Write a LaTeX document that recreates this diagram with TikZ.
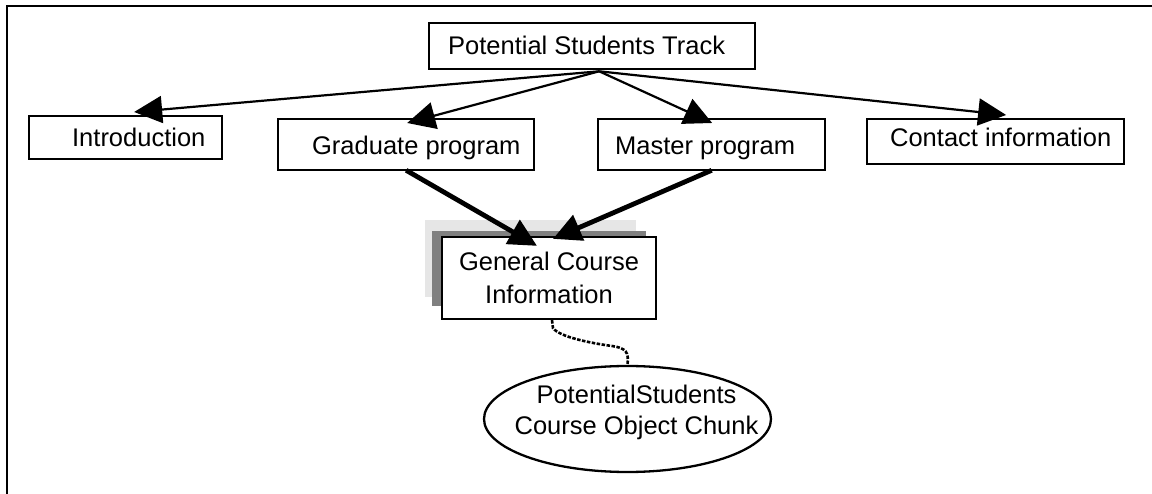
\documentclass[tikz,border=0pt]{standalone}
\usepackage{fontspec}
\setmainfont{Liberation Sans}
\usetikzlibrary{arrows.meta,shapes.geometric}
\definecolor{shadelight}{HTML}{E6E6E6}
\definecolor{shadedark}{HTML}{808080}

% box label: fixed width, text set in from the left edge
\newcommand\lbltext[3]{\makebox[#1][l]{\hspace*{#2}#3}}

\tikzset{
  box/.style={draw=black, line width=2.3pt, fill=white, rectangle, inner sep=0pt,
              anchor=north west, font=\fontsize{25.5}{31}\selectfont},
  flow/.style={line width=2.2pt, -{Triangle[length=28pt,width=27pt]}},
  heavy/.style={line width=4.8pt, -{Triangle[length=28pt,width=27pt]}},
  link/.style={line width=2.6pt, dash pattern=on 3.5pt off 1.5pt},
}

\begin{document}
\begin{tikzpicture}[x=1pt,y=-1pt]
\useasboundingbox (0,0) rectangle (1152,494);

% frame
\draw[line width=2.6pt, line join=miter] (7,494) -- (7,6) -- (1152,6);

% layered shading behind the course box
\fill[shadelight] (425,220) rectangle (636,297);
\fill[shadedark] (432,231) rectangle (646,306);

% boxes
\node[box, text height=31pt, text depth=15pt] (track) at (428,22)
  {\lbltext{326pt}{19pt}{Potential Students Track}};
\node[box, text height=30pt, text depth=13pt] (intro) at (28,115)
  {\lbltext{193pt}{43pt}{Introduction}};
\node[box, text height=35pt, text depth=16pt] (grad) at (277,118)
  {\lbltext{256pt}{34pt}{Graduate program}};
\node[box, text height=35pt, text depth=16pt] (master) at (597,118)
  {\lbltext{227pt}{17pt}{Master program}};
\node[box, text height=27pt, text depth=18pt] (contact) at (866,118)
  {\lbltext{257pt}{23pt}{Contact information}};
\node[box, anchor=center, minimum width=214pt, minimum height=82pt, align=center,
      font=\fontsize{25.5}{33}\selectfont] (gci) at (549,278)
  {General Course\\Information};

% object chunk
\node[draw, line width=2.3pt, ellipse, minimum width=287pt, minimum height=106pt,
      inner sep=0pt,
      label={[align=center, font=\fontsize{25.5}{31}\selectfont, xshift=9pt, yshift=7pt]center:PotentialStudents\\Course Object Chunk}]
  (chunk) at (627.5,419) {};

% track links
\draw[flow] ([xshift=7pt,yshift=-1pt]track.south) -- ([xshift=8.5pt,yshift=3pt]intro.north);
\draw[flow] ([xshift=7pt,yshift=-1pt]track.south) -- ([xshift=1pt,yshift=-5pt]grad.north);
\draw[flow] ([xshift=7pt,yshift=-1pt]track.south) -- ([xshift=0.5pt,yshift=-5pt]master.north);
\draw[flow] ([xshift=7pt,yshift=-1pt]track.south) -- ([xshift=10.5pt,yshift=3pt]contact.north);

% programs to course information
\draw[heavy] ([yshift=1pt]grad.south) -- ([xshift=-12pt,yshift=-10pt]gci.north);
\draw[heavy] ([yshift=1pt]master.south) -- ([xshift=4pt,yshift=-3pt]gci.north);

% course information to chunk
\draw[link] ([xshift=3pt]gci.south) -- ++(1,8)
  .. controls (560,337) and (590,343) .. (612,346)
  .. controls (626,348) and (629,352) .. (chunk.north);
\end{tikzpicture}
\end{document}
